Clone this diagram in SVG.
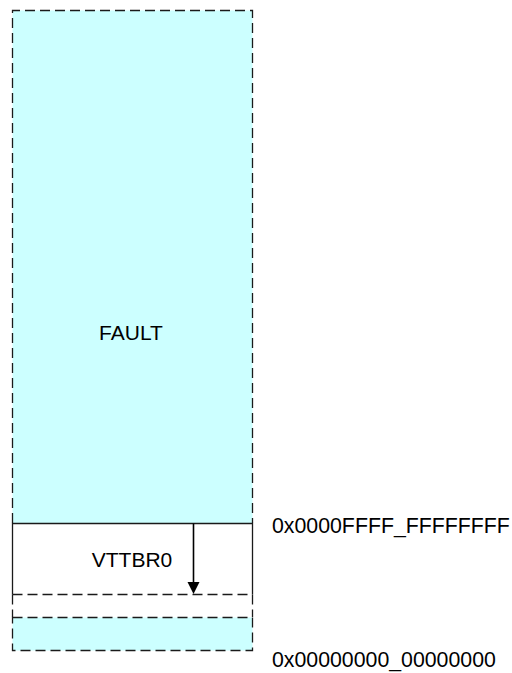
<svg xmlns="http://www.w3.org/2000/svg" width="512" height="673" viewBox="0 0 512 673">
<style>
.dash{fill:none;stroke:#1a1a1a;stroke-width:1.3;stroke-dasharray:10,5}
.solid{fill:none;stroke:#1a1a1a;stroke-width:1.3}
.t{font-family:"Liberation Sans",Arial,sans-serif;font-size:21px;fill:#000}
.lab{font-size:21.3px}
</style>
<g id="fault">
<rect x="12.5" y="10.5" width="240" height="512.5" fill="#CCFFFF"/>
<path class="dash" d="M12.5,523 V10.5 H252.5 V523"/>
<text class="t" x="131" y="340" text-anchor="middle">FAULT</text>
</g>
<g id="vttbr0">
<rect x="12.5" y="523" width="240" height="94" fill="#FFFFFF"/>
<path class="solid" d="M12.5,594.5 V523.5 H252.5 V594.5"/>
<text class="t" x="132" y="567" text-anchor="middle">VTTBR0</text>
</g>
<g id="gap">
<path class="dash" d="M12.5,594.5 H252.5 M12.5,594.5 V617 M252.5,594.5 V617"/>
</g>
<g id="lower">
<rect x="12.5" y="617.5" width="240" height="33" fill="#CCFFFF"/>
<path class="dash" d="M12.5,617.5 H252.5 V650.5 H12.5 Z"/>
</g>
<g id="labels">
<text id="hi" class="t lab" x="272" y="533">0x0000FFFF_FFFFFFFF</text>
<text id="lo" class="t lab" x="272" y="667">0x00000000_00000000</text>
</g>
<g id="connectors">
<line x1="193.5" y1="523.5" x2="193.5" y2="583" stroke="#000" stroke-width="1.6"/>
<path d="M187.5,582 L199.5,582 L193.5,594 Z" fill="#000"/>
</g>
</svg>
